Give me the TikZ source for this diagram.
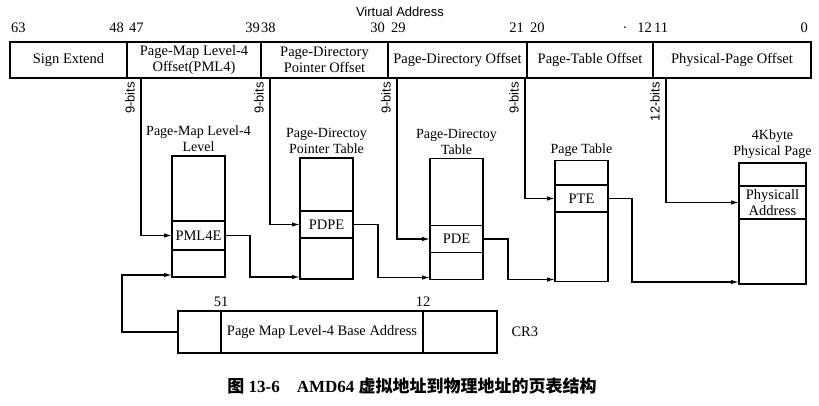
\documentclass[tikz,border=0pt]{standalone}
\usepackage{fontspec}
\setmainfont{Liberation Serif}
\newfontfamily\arialfont{Liberation Sans}
\newfontfamily\cjk{Noto Sans CJK SC}
\usepackage{tikz}
\usetikzlibrary{arrows.meta,positioning,calc}

\tikzset{
  field/.style={draw, line width=1.4pt, outer sep=0pt, inner sep=0pt, minimum height=36pt,
    align=center, font=\fontsize{14.5}{16}\selectfont},
  bitnum/.style={inner sep=0pt, font=\fontsize{14.5}{16}\selectfont},
  bits/.style={rotate=90, anchor=south east, inner sep=0pt, font=\arialfont\fontsize{13}{14}\selectfont},
  tbl/.style={draw, line width=1.4pt, outer sep=0pt, inner sep=0pt, minimum width=53pt, minimum height=121pt},
  entry/.style={draw, line width=1.4pt, outer sep=0pt, inner sep=0pt, minimum width=53pt, minimum height=27pt,
    align=center, font=\fontsize{14.5}{16}\selectfont},
  ttl/.style={inner sep=0pt, align=center, font=\fontsize{14}{16}\selectfont},
  reg/.style={draw, line width=1.4pt, outer sep=0pt, inner sep=0pt, minimum height=42pt,
    font=\fontsize{14.5}{16}\selectfont},
  arr/.style={-{Latex[length=8pt,width=4.5pt]}, line width=1.3pt},
}

\begin{document}
\begin{tikzpicture}[x=1pt, y=-1pt]
    \useasboundingbox (0,0) rectangle (819,405);

    % Virtual address fields
    \node[font=\arialfont\fontsize{13}{14}\selectfont] (va) at (400,12) {Virtual Address};
    \node[field, minimum width=117pt, anchor=north west] (sign) at (10,42) {Sign Extend};
    \node[field, minimum width=134pt, right=0pt of sign] (pml4f) {Page-Map Level-4\\Offset(PML4)};
    \node[field, minimum width=127pt, right=0pt of pml4f] (pdpf) {Page-Directory\\Pointer Offset};
    \node[field, minimum width=139pt, right=0pt of pdpf] (pdf) {Page-Directory Offset};
    \node[field, minimum width=126pt, right=0pt of pdf] (ptf) {Page-Table Offset};
    \node[field, minimum width=158pt, right=0pt of ptf] (ppf) {Physical-Page Offset};

    % Bit numbers
    \node[bitnum, above right=9pt and 1pt of sign.north west] (n63) {63};
    \node[bitnum, above left=9pt and 3pt of sign.north east] (n48) {48};
    \node[bitnum, above right=9pt and 2pt of pml4f.north west] (n47) {47};
    \node[bitnum, above left=9pt and 1pt of pml4f.north east] (n39) {39};
    \node[bitnum, above right=9pt and 0pt of pdpf.north west] (n38) {38};
    \node[bitnum, above left=9pt and 3pt of pdpf.north east] (n30) {30};
    \node[bitnum, above right=9pt and 3pt of pdf.north west] (n29) {29};
    \node[bitnum, above left=9pt and 3pt of pdf.north east] (n21) {21};
    \node[bitnum, above right=9pt and 3pt of ptf.north west] (n20) {20};
    \node[bitnum, anchor=south] (ndot) at (625,33) {·};
    \node[bitnum, above left=9pt and 1pt of ptf.north east] (n12) {12};
    \node[bitnum, above right=9pt and 1pt of ppf.north west] (n11) {11};
    \node[bitnum, above left=9pt and 3pt of ppf.north east] (n0) {0};

    % Tables
    \node[tbl] (pml4) at (198.5,216.5) {};
    \node[entry, minimum height=29pt] (pml4e) at (198.5,235.5) {PML4E};
    \node[ttl, above=4pt of pml4] (pml4t) {Page-Map Level-4\\Level};

    \node[tbl] (pdpt) at (326.5,218.5) {};
    \node[entry] (pdpe) at (326.5,224.5) {PDPE};
    \node[ttl, above=4pt of pdpt] (pdptt) {Page-Directoy\\Pointer Table};

    \node[tbl] (pd) at (456.5,219) {};
    \node[entry] (pde) at (456.5,239) {PDE};
    \node[ttl, above=4pt of pd] (pdt) {Page-Directoy\\Table};

    \node[tbl] (pt) at (581.5,221) {};
    \node[entry] (pte) at (581.5,198.5) {PTE};
    \node[ttl, above=4pt of pt] (ptt) {Page Table};

    \node[tbl, minimum width=67pt] (page) at (772.5,223.5) {};
    \node[entry, minimum width=67pt, minimum height=33pt] (paddr) at (772.5,202.5) {Physicall\\Address};
    \node[ttl, above=4pt of page] (paget) {4Kbyte\\Physical Page};

    % Index bits from the address
    \coordinate (b1) at (141,78);
    \coordinate (b2) at (270,78);
    \coordinate (b3) at (397,78);
    \coordinate (b4) at (525,78);
    \coordinate (b5) at (666,78);
    \draw[arr] (b1) |- (pml4e.west);
    \draw[arr] (b2) |- (pdpe.west);
    \draw[arr] (b3) |- (pde.west);
    \draw[arr] (b4) |- (pte.west);
    \draw[arr] (b5) |- (paddr.west);
    \node[bits] (l1) at ($(b1)+(-6,4)$) {9-bits};
    \node[bits] (l2) at ($(b2)+(-6,4)$) {9-bits};
    \node[bits] (l3) at ($(b3)+(-6,4)$) {9-bits};
    \node[bits] (l4) at ($(b4)+(-6,4)$) {9-bits};
    \node[bits] (l5) at ($(b5)+(-6,4)$) {12-bits};

    % Entry to next table
    \draw[arr] (pml4e.east) -- ++(25,0) |- ($(pdpt.south west)+(0,-2)$);
    \draw[arr] (pdpe.east) -- ++(25,0) |- ($(pd.south west)+(0,-2)$);
    \draw[arr] (pde.east) -- ++(25,0) |- ($(pt.south west)+(0,-2)$);
    \draw[arr] (pte.east) -- ++(24,0) |- ($(page.south west)+(0,-2)$);

    % CR3 register
    \node[reg, minimum width=43pt, anchor=north west] (cr3lo) at (178,311) {};
    \node[reg, minimum width=202pt, right=0pt of cr3lo] (cr3mid) {Page Map Level-4 Base Address};
    \node[reg, minimum width=74pt, right=0pt of cr3mid] (cr3hi) {};
    \node[bitnum, above=4pt of cr3mid.north west] (n51) {51};
    \node[bitnum, above=4pt of cr3mid.north east] (n12b) {12};
    \node[font=\fontsize{14.5}{16}\selectfont, right=11pt of cr3hi] (cr3) {CR3};
    \draw[arr] (cr3lo.west) -- ++(-56,0) |- ($(pml4.south west)+(0,-2)$);

    % Caption
    \node[font=\fontsize{17}{20}\selectfont\bfseries] (cap) at (412,386)
        {{\cjk 图} 13-6\quad AMD64 {\cjk 虚拟地址到物理地址的页表结构}};
\end{tikzpicture}
\end{document}
